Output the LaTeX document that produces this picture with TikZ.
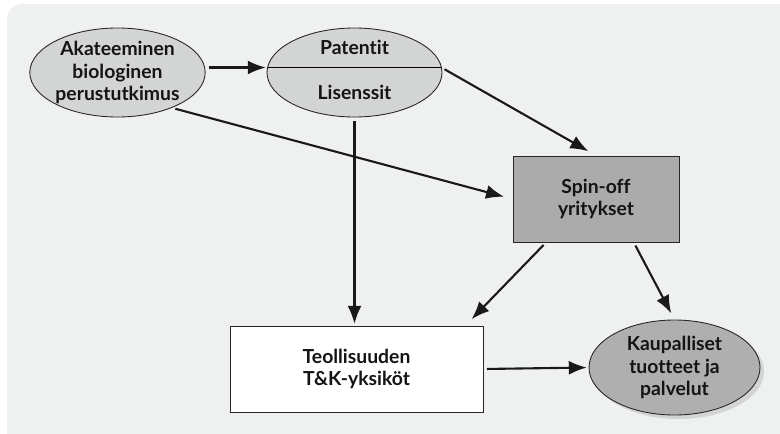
\documentclass[tikz,border=0pt]{standalone}
\usepackage{fontspec}
\setmainfont[Ligatures=NoCommon]{Lato}
\usepackage{xcolor}
\usetikzlibrary{shapes.geometric,arrows.meta,shadows}
\definecolor{panel}{HTML}{EFF1F1}
\definecolor{lightfill}{HTML}{D3D4D4}
\definecolor{darkfill}{HTML}{ABABAB}
\definecolor{txt}{HTML}{141414}

\begin{document}
\begin{tikzpicture}[
    font=\bfseries\fontsize{11}{12.8}\selectfont,
    every node/.style={text=txt, align=center},
    oval/.style={ellipse, draw=black!85, line width=0.5pt, fill=lightfill, minimum width=3.5cm, minimum height=1.78cm, inner sep=0pt},
    box/.style={rectangle, draw=black!85, line width=0.5pt, minimum height=1.72cm},
    arrow/.style={-{Latex[length=3.6mm,width=2.8mm]}, line width=1.2pt, draw=black!90, shorten <=2pt, shorten >=1pt}
]
\useasboundingbox (0,0) rectangle (15.6,-8.66);
\fill[panel, rounded corners=0.3cm] (0.14,-0.08) rectangle (16.2,-9.2);

\node[oval] (aka) at (2.35,-1.45) {Akateeminen\\biologinen\\perustutkimus};
\node[oval] (pat) at (7.09,-1.45) {};
\coordinate (patL) at ([xshift=-1.739cm, yshift=0.1cm]pat.center);
\coordinate (patR) at ([xshift=1.739cm, yshift=0.1cm]pat.center);
\draw[line width=0.5pt] (patL) -- (patR);
\node (patup) at ([yshift=0.5cm]pat.center) {Patentit};
\node (patdown) at ([yshift=-0.4cm]pat.center) {Lisenssit};
\node[box, fill=darkfill, minimum width=3.32cm] (spin) at (11.92,-3.98) {Spin-off\\yritykset};
\node[box, fill=white, minimum width=5.06cm] (teol) at (7.13,-7.38) {Teollisuuden\\T\&K-yksiköt};
\node[oval, fill=darkfill!95!white, minimum width=3.42cm, minimum height=1.9cm,
      drop shadow={shadow xshift=0.08cm, shadow yshift=-0.08cm, opacity=0.25}] (kaup) at (13.49,-7.35) {Kaupalliset\\tuotteet ja\\palvelut};

\draw[arrow] (aka.east |- patL) -- (patL);
\draw[arrow, shorten >=5pt] (patR) -- (spin.north);
\draw[arrow, shorten >=5pt] (aka.-33) -- (spin.west);
\draw[arrow] (pat.south) -- (pat.south |- teol.north);
\draw[arrow, shorten >=5pt] (spin.221) -- ([xshift=-0.36cm]teol.north east);
\draw[arrow, shorten >=4pt] (spin.-49) -- (kaup.north);
\draw[arrow] (teol.east) -- (kaup.west);
\end{tikzpicture}
\end{document}
